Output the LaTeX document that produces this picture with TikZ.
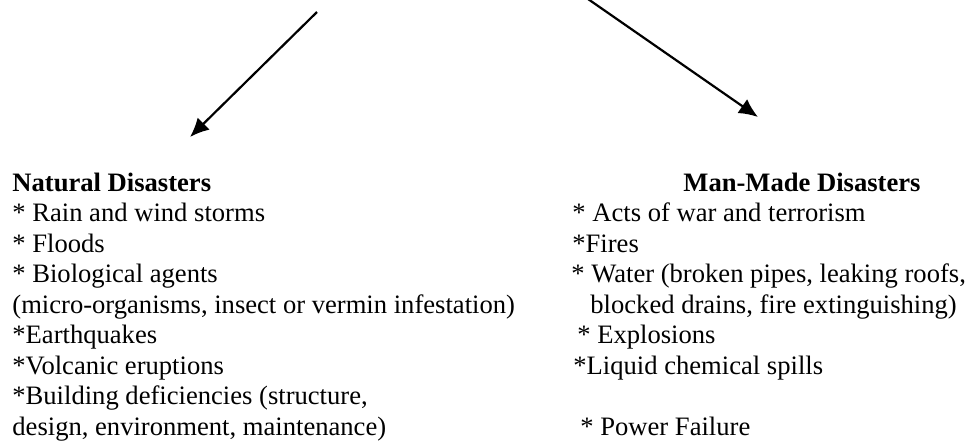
\documentclass[tikz,border=0pt]{standalone}
\usepackage{fontspec}
\setmainfont{Liberation Serif}
\usetikzlibrary{arrows.meta}
\newcommand{\rowgap}{30.5}
\tikzset{
    headsty/.style={font=\fontsize{13.3}{16}\selectfont\bfseries, anchor=base west, inner sep=0pt},
    itemsty/.style={font=\fontsize{13.3}{16}\selectfont, anchor=base west, inner sep=0pt},
    arrsty/.style={-{Latex[length=9.5pt,width=8.5pt]}, line width=1.1pt},
}

\begin{document}
\begin{tikzpicture}[x=0.5pt, y=-0.5pt]
  \useasboundingbox (0,0) rectangle (966,441);

  % the two arrows
  \coordinate (natfrom) at (317,12);
  \coordinate (natto)   at (190,137);
  \coordinate (manfrom) at (588,-1);
  \coordinate (manto)   at (758,117);
  \draw[arrsty] (natfrom) -- (natto);
  \draw[arrsty] (manfrom) -- (manto);

  % natural disasters
  \node[headsty] (nat0) at (12,191) {Natural Disasters};
  \foreach \r/\t in {1/{* Rain and wind storms},
                     2/{* Floods},
                     3/{* Biological agents},
                     4/{(micro-organisms, insect or vermin infestation)},
                     5/{*Earthquakes},
                     6/{*Volcanic eruptions},
                     7/{*Building deficiencies (structure,},
                     8/{design, environment, maintenance)}}
    \node[itemsty] (nat\r) at (12,191+\r*\rowgap) {\t};

  % man-made disasters
  \node[headsty] (man0) at (683,191) {Man-Made Disasters};
  \foreach \r/\x/\t in {1/572/{* Acts of war and terrorism},
                        2/572/{*Fires},
                        3/571/{* Water (broken pipes, leaking roofs,},
                        4/590/{blocked drains, fire extinguishing)},
                        5/577/{* Explosions},
                        6/573/{*Liquid chemical spills},
                        8/580/{* Power Failure}}
    \node[itemsty] (man\r) at (\x,191+\r*\rowgap) {\t};
\end{tikzpicture}
\end{document}
